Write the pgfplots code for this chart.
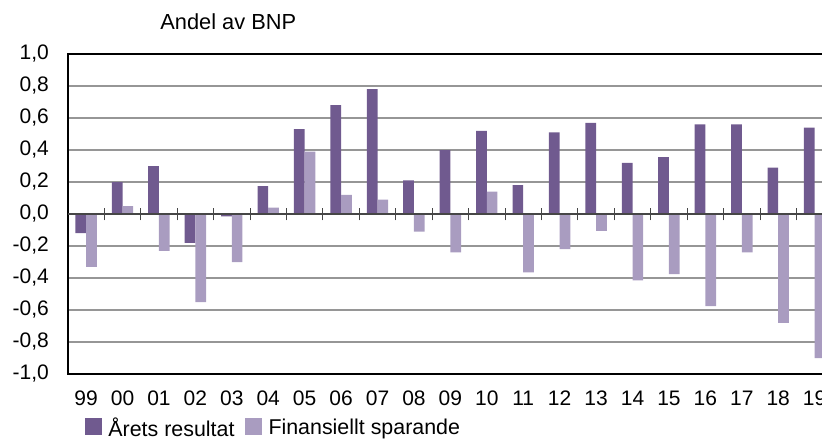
\documentclass[border=0pt]{standalone}
\usepackage{fontspec}
\setmainfont{Liberation Sans}
\usepackage{pgfplots}
\pgfplotsset{compat=1.18}
\definecolor{darkp}{RGB}{112,90,143}
\definecolor{lightp}{RGB}{169,156,192}
\definecolor{gridc}{RGB}{150,150,150}
\definecolor{zeroc}{RGB}{70,70,70}
\begin{document}
\fontsize{10.5}{12.6}\selectfont
\begin{tikzpicture}
\path[use as bounding box] (0,0) rectangle (411pt,219.5pt);
\node[anchor=base west, inner sep=0pt, font=\fontsize{10.9}{13}\selectfont] at (80pt,204.5pt) {Andel av BNP};
\begin{axis}[
  at={(33.93pt,32.5pt)}, anchor=south west,
  scale only axis, width=382.5pt, height=160pt,
  xmin=-0.5, xmax=20.5, ymin=-1, ymax=1,
  ybar=0pt, bar width=5.35pt,
  xtick={0,...,20},
  xticklabels={99,00,01,02,03,04,05,06,07,08,09,10,11,12,13,14,15,16,17,18,19},
  ytick={-1,-0.8,-0.6,-0.4,-0.2,0,0.2,0.4,0.6,0.8,1},
  ymajorgrids, grid style={gridc, line width=0.75pt},
  tick style={draw=none},
  axis line style={black, line width=0.75pt},
  yticklabel style={/pgf/number format/.cd, use comma, fixed, fixed zerofill, precision=1, assume math mode=true, /tikz/.cd, xshift=-5.8pt},
  xticklabel style={yshift=-0.6pt},
  legend style={at={(axis description cs:0.0226,-0.137)}, anchor=north west, draw=none, fill=none, inner sep=0pt, outer sep=0pt, legend columns=-1,
    font=\fontsize{10.7}{12.8}\selectfont,
    /tikz/every odd column/.append style={column sep=3.3pt},
    /tikz/every even column/.append style={column sep=5.35pt},
    nodes={inner sep=0pt}},
  legend image code/.code={\fill[#1] (0pt,-3.15pt) rectangle (8.35pt,5.2pt);},
]
\addplot[fill=darkp, draw=none] coordinates {
(0,-0.12) (1,0.20) (2,0.30) (3,-0.18) (4,-0.015) (5,0.175) (6,0.53) (7,0.68) (8,0.78) (9,0.21) (10,0.40)
(11,0.52) (12,0.18) (13,0.51) (14,0.57) (15,0.32) (16,0.355) (17,0.56) (18,0.56) (19,0.29) (20,0.54)};
\addplot[fill=lightp, draw=none] coordinates {
(0,-0.33) (1,0.05) (2,-0.23) (3,-0.55) (4,-0.30) (5,0.04) (6,0.39) (7,0.12) (8,0.09) (9,-0.11) (10,-0.24)
(11,0.14) (12,-0.365) (13,-0.22) (14,-0.105) (15,-0.415) (16,-0.375) (17,-0.575) (18,-0.24) (19,-0.68) (20,-0.90)};
\legend{Årets resultat, Finansiellt sparande}
\draw[zeroc, line width=0.6pt] (axis cs:-0.5,0) -- (axis cs:20.5,0);
\pgfplotsinvokeforeach{0.5,1.5,...,19.5}{
  \draw[zeroc, line width=0.5pt] ([yshift=-3.15pt]axis cs:#1,0) -- ([yshift=3.15pt]axis cs:#1,0);
}
\end{axis}
\end{tikzpicture}
\end{document}
